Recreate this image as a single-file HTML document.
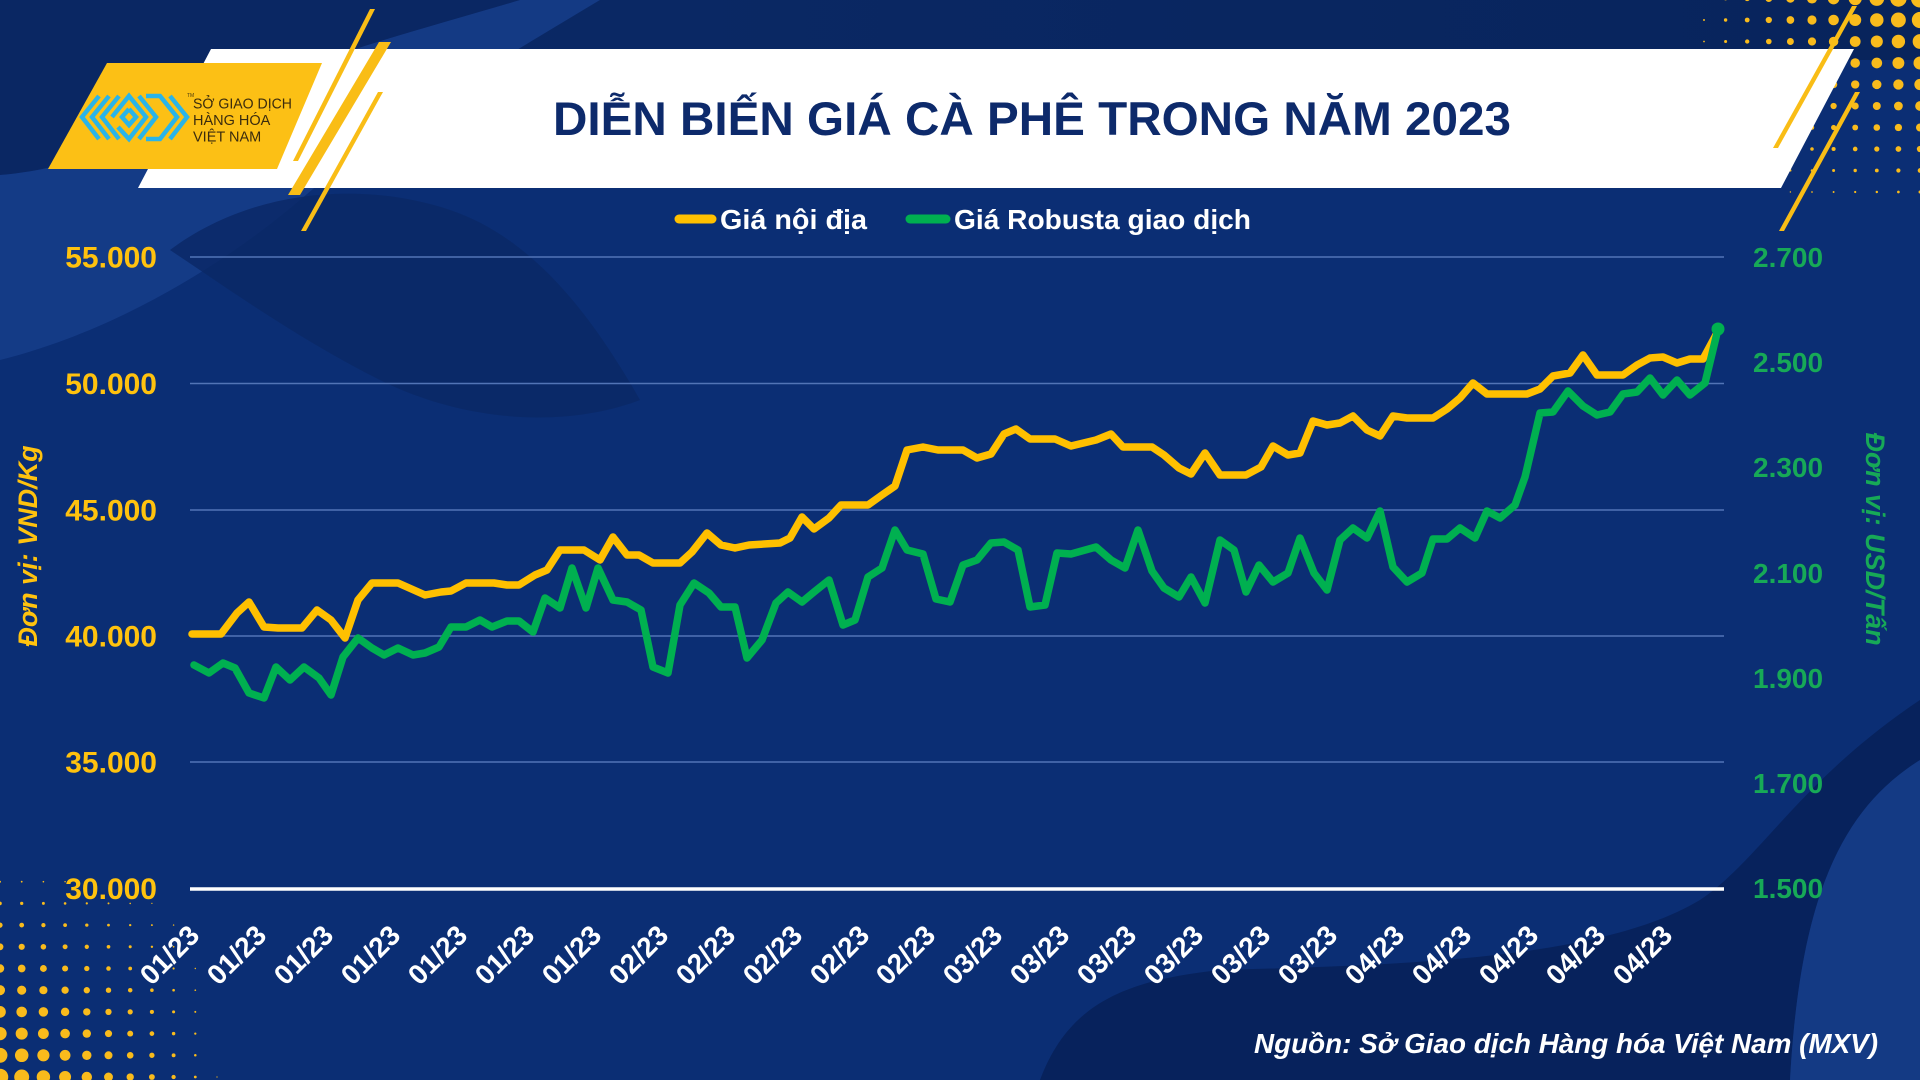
<!DOCTYPE html>
<html><head><meta charset="utf-8"><style>
html,body{margin:0;padding:0;background:#0b2e74;}
svg{display:block;}
text{font-family:"Liberation Sans",Arial,sans-serif;}
</style></head><body>
<svg width="1920" height="1080" viewBox="0 0 1920 1080" xmlns="http://www.w3.org/2000/svg">
<defs>
<linearGradient id="topg" x1="0" y1="0" x2="1" y2="0"><stop offset="0" stop-color="#0b2a68"/><stop offset="1" stop-color="#08245c"/></linearGradient>
</defs>
<!-- background -->
<rect width="1920" height="1080" fill="#0b2e74"/>
<rect width="1920" height="60" fill="url(#topg)"/>
<path d="M0,0 H520 C420,30 300,60 200,110 C120,150 60,170 0,175 Z" fill="#0a2763"/>
<path d="M0,175 C60,170 120,150 200,110 C300,60 420,30 520,0 H600 C500,60 380,130 300,200 C230,260 120,330 0,360 Z" fill="#163d8a" opacity="0.85"/>
<path d="M170,250 C250,190 360,180 450,210 C540,240 600,330 640,400 C560,430 460,420 380,380 C300,340 230,290 170,250 Z" fill="#0a2865" opacity="0.8"/>
<path d="M1040,1080 C1070,1000 1130,980 1220,970 C1400,965 1600,960 1700,900 C1760,860 1800,780 1920,700 L1920,760 C1840,810 1800,900 1790,1080 Z" fill="#07225c"/>
<path d="M1790,1080 C1800,900 1840,810 1920,760 L1920,1080 Z" fill="#143a84"/>

<!-- top-right dots -->
<g fill="#f9bb1c">
<circle cx="1704" cy="-1.5" r="1.07"/><circle cx="1725.6" cy="-1.5" r="1.86"/><circle cx="1747.2" cy="-1.5" r="2.66"/><circle cx="1768.8" cy="-1.5" r="3.45"/><circle cx="1790.4" cy="-1.5" r="4.24"/><circle cx="1812" cy="-1.5" r="5.04"/><circle cx="1833.6" cy="-1.5" r="5.83"/><circle cx="1855.2" cy="-1.5" r="6.63"/><circle cx="1876.8" cy="-1.5" r="7.42"/><circle cx="1898.4" cy="-1.5" r="8.22"/><circle cx="1920" cy="-1.5" r="9.01"/>
<circle cx="1704" cy="20" r="0.97"/><circle cx="1725.6" cy="20" r="1.69"/><circle cx="1747.2" cy="20" r="2.41"/><circle cx="1768.8" cy="20" r="3.13"/><circle cx="1790.4" cy="20" r="3.85"/><circle cx="1812" cy="20" r="4.57"/><circle cx="1833.6" cy="20" r="5.29"/><circle cx="1855.2" cy="20" r="6.01"/><circle cx="1876.8" cy="20" r="6.73"/><circle cx="1898.4" cy="20" r="7.45"/><circle cx="1920" cy="20" r="8.17"/>
<circle cx="1704" cy="41.5" r="0.87"/><circle cx="1725.6" cy="41.5" r="1.52"/><circle cx="1747.2" cy="41.5" r="2.16"/><circle cx="1768.8" cy="41.5" r="2.81"/><circle cx="1790.4" cy="41.5" r="3.46"/><circle cx="1812" cy="41.5" r="4.10"/><circle cx="1833.6" cy="41.5" r="4.75"/><circle cx="1855.2" cy="41.5" r="5.40"/><circle cx="1876.8" cy="41.5" r="6.04"/><circle cx="1898.4" cy="41.5" r="6.69"/><circle cx="1920" cy="41.5" r="7.34"/>
<circle cx="1704" cy="63" r="0.77"/><circle cx="1725.6" cy="63" r="1.34"/><circle cx="1747.2" cy="63" r="1.92"/><circle cx="1768.8" cy="63" r="2.49"/><circle cx="1790.4" cy="63" r="3.06"/><circle cx="1812" cy="63" r="3.63"/><circle cx="1833.6" cy="63" r="4.21"/><circle cx="1855.2" cy="63" r="4.78"/><circle cx="1876.8" cy="63" r="5.35"/><circle cx="1898.4" cy="63" r="5.93"/><circle cx="1920" cy="63" r="6.50"/>
<circle cx="1704" cy="84.5" r="0.67"/><circle cx="1725.6" cy="84.5" r="1.17"/><circle cx="1747.2" cy="84.5" r="1.67"/><circle cx="1768.8" cy="84.5" r="2.17"/><circle cx="1790.4" cy="84.5" r="2.67"/><circle cx="1812" cy="84.5" r="3.17"/><circle cx="1833.6" cy="84.5" r="3.67"/><circle cx="1855.2" cy="84.5" r="4.17"/><circle cx="1876.8" cy="84.5" r="4.66"/><circle cx="1898.4" cy="84.5" r="5.16"/><circle cx="1920" cy="84.5" r="5.66"/>
<circle cx="1725.6" cy="106" r="1.0"/><circle cx="1747.2" cy="106" r="1.42"/><circle cx="1768.8" cy="106" r="1.85"/><circle cx="1790.4" cy="106" r="2.27"/><circle cx="1812" cy="106" r="2.70"/><circle cx="1833.6" cy="106" r="3.12"/><circle cx="1855.2" cy="106" r="3.55"/><circle cx="1876.8" cy="106" r="3.98"/><circle cx="1898.4" cy="106" r="4.40"/><circle cx="1920" cy="106" r="4.83"/>
<circle cx="1725.6" cy="127.5" r="0.82"/><circle cx="1747.2" cy="127.5" r="1.18"/><circle cx="1768.8" cy="127.5" r="1.53"/><circle cx="1790.4" cy="127.5" r="1.88"/><circle cx="1812" cy="127.5" r="2.23"/><circle cx="1833.6" cy="127.5" r="2.58"/><circle cx="1855.2" cy="127.5" r="2.93"/><circle cx="1876.8" cy="127.5" r="3.29"/><circle cx="1898.4" cy="127.5" r="3.64"/><circle cx="1920" cy="127.5" r="3.99"/>
<circle cx="1725.6" cy="149" r="0.65"/><circle cx="1747.2" cy="149" r="0.93"/><circle cx="1768.8" cy="149" r="1.21"/><circle cx="1790.4" cy="149" r="1.48"/><circle cx="1812" cy="149" r="1.76"/><circle cx="1833.6" cy="149" r="2.04"/><circle cx="1855.2" cy="149" r="2.32"/><circle cx="1876.8" cy="149" r="2.60"/><circle cx="1898.4" cy="149" r="2.87"/><circle cx="1920" cy="149" r="3.15"/>
<circle cx="1747.2" cy="170.5" r="0.68"/><circle cx="1768.8" cy="170.5" r="0.89"/><circle cx="1790.4" cy="170.5" r="1.09"/><circle cx="1812" cy="170.5" r="1.30"/><circle cx="1833.6" cy="170.5" r="1.50"/><circle cx="1855.2" cy="170.5" r="1.70"/><circle cx="1876.8" cy="170.5" r="1.91"/><circle cx="1898.4" cy="170.5" r="2.11"/><circle cx="1920" cy="170.5" r="2.32"/>
<circle cx="1790.4" cy="192" r="0.70"/><circle cx="1812" cy="192" r="0.83"/><circle cx="1833.6" cy="192" r="0.96"/><circle cx="1855.2" cy="192" r="1.09"/><circle cx="1876.8" cy="192" r="1.22"/><circle cx="1898.4" cy="192" r="1.35"/><circle cx="1920" cy="192" r="1.48"/>
</g>

<!-- bottom-left dots -->
<g fill="#f9bb1c">
<circle cx="0" cy="1077" r="8.26"/><circle cx="21.7" cy="1077" r="7.50"/><circle cx="43.4" cy="1077" r="6.73"/><circle cx="65.1" cy="1077" r="5.97"/><circle cx="86.8" cy="1077" r="5.21"/><circle cx="108.5" cy="1077" r="4.45"/><circle cx="130.2" cy="1077" r="3.68"/><circle cx="151.9" cy="1077" r="2.92"/><circle cx="173.6" cy="1077" r="2.16"/><circle cx="195.3" cy="1077" r="1.40"/><circle cx="217" cy="1077" r="0.63"/>
<circle cx="0" cy="1055.3" r="7.45"/><circle cx="21.7" cy="1055.3" r="6.76"/><circle cx="43.4" cy="1055.3" r="6.08"/><circle cx="65.1" cy="1055.3" r="5.39"/><circle cx="86.8" cy="1055.3" r="4.70"/><circle cx="108.5" cy="1055.3" r="4.01"/><circle cx="130.2" cy="1055.3" r="3.32"/><circle cx="151.9" cy="1055.3" r="2.64"/><circle cx="173.6" cy="1055.3" r="1.95"/><circle cx="195.3" cy="1055.3" r="1.26"/>
<circle cx="0" cy="1033.6" r="6.65"/><circle cx="21.7" cy="1033.6" r="6.03"/><circle cx="43.4" cy="1033.6" r="5.42"/><circle cx="65.1" cy="1033.6" r="4.80"/><circle cx="86.8" cy="1033.6" r="4.19"/><circle cx="108.5" cy="1033.6" r="3.58"/><circle cx="130.2" cy="1033.6" r="2.96"/><circle cx="151.9" cy="1033.6" r="2.35"/><circle cx="173.6" cy="1033.6" r="1.74"/><circle cx="195.3" cy="1033.6" r="1.12"/>
<circle cx="0" cy="1011.9" r="5.84"/><circle cx="21.7" cy="1011.9" r="5.30"/><circle cx="43.4" cy="1011.9" r="4.76"/><circle cx="65.1" cy="1011.9" r="4.22"/><circle cx="86.8" cy="1011.9" r="3.68"/><circle cx="108.5" cy="1011.9" r="3.14"/><circle cx="130.2" cy="1011.9" r="2.60"/><circle cx="151.9" cy="1011.9" r="2.06"/><circle cx="173.6" cy="1011.9" r="1.53"/><circle cx="195.3" cy="1011.9" r="0.99"/>
<circle cx="0" cy="990.2" r="5.03"/><circle cx="21.7" cy="990.2" r="4.57"/><circle cx="43.4" cy="990.2" r="4.10"/><circle cx="65.1" cy="990.2" r="3.64"/><circle cx="86.8" cy="990.2" r="3.17"/><circle cx="108.5" cy="990.2" r="2.71"/><circle cx="130.2" cy="990.2" r="2.24"/><circle cx="151.9" cy="990.2" r="1.78"/><circle cx="173.6" cy="990.2" r="1.31"/><circle cx="195.3" cy="990.2" r="0.85"/>
<circle cx="0" cy="968.5" r="4.22"/><circle cx="21.7" cy="968.5" r="3.83"/><circle cx="43.4" cy="968.5" r="3.44"/><circle cx="65.1" cy="968.5" r="3.05"/><circle cx="86.8" cy="968.5" r="2.66"/><circle cx="108.5" cy="968.5" r="2.27"/><circle cx="130.2" cy="968.5" r="1.88"/><circle cx="151.9" cy="968.5" r="1.49"/><circle cx="173.6" cy="968.5" r="1.10"/><circle cx="195.3" cy="968.5" r="0.71"/>
<circle cx="0" cy="946.8" r="3.42"/><circle cx="21.7" cy="946.8" r="3.10"/><circle cx="43.4" cy="946.8" r="2.79"/><circle cx="65.1" cy="946.8" r="2.47"/><circle cx="86.8" cy="946.8" r="2.15"/><circle cx="108.5" cy="946.8" r="1.84"/><circle cx="130.2" cy="946.8" r="1.52"/><circle cx="151.9" cy="946.8" r="1.21"/><circle cx="173.6" cy="946.8" r="0.89"/>
<circle cx="0" cy="925.1" r="2.61"/><circle cx="21.7" cy="925.1" r="2.37"/><circle cx="43.4" cy="925.1" r="2.13"/><circle cx="65.1" cy="925.1" r="1.89"/><circle cx="86.8" cy="925.1" r="1.65"/><circle cx="108.5" cy="925.1" r="1.40"/><circle cx="130.2" cy="925.1" r="1.16"/><circle cx="151.9" cy="925.1" r="0.92"/><circle cx="173.6" cy="925.1" r="0.68"/>
<circle cx="0" cy="903.4" r="1.80"/><circle cx="21.7" cy="903.4" r="1.63"/><circle cx="43.4" cy="903.4" r="1.47"/><circle cx="65.1" cy="903.4" r="1.30"/><circle cx="86.8" cy="903.4" r="1.14"/><circle cx="108.5" cy="903.4" r="0.97"/><circle cx="130.2" cy="903.4" r="0.80"/><circle cx="151.9" cy="903.4" r="0.64"/>
<circle cx="0" cy="881.7" r="0.99"/><circle cx="21.7" cy="881.7" r="0.90"/><circle cx="43.4" cy="881.7" r="0.81"/><circle cx="65.1" cy="881.7" r="0.72"/><circle cx="86.8" cy="881.7" r="0.63"/>
</g>

<!-- white banner -->
<polygon points="211,49 1854,49 1781,188 138,188" fill="#ffffff"/>
<!-- yellow stripes -->
<g fill="#f9bd16">
<polygon points="370,9 375,9 298,161 293,161"/>
<polygon points="379,42 391,42 300,195 288,195"/>
<polygon points="378,92 383,92 306,231 301,231"/>
<polygon points="1852,6 1857,6 1778,148 1773,148"/>
<polygon points="1855,92 1860,92 1784,231 1779,231"/>
</g>
<!-- logo -->
<polygon points="107,63 322,63 277,169 48,169" fill="#fcc015"/>
<g fill="none" stroke="#2ab4e8" stroke-width="4.5" stroke-linejoin="miter">
<polyline points="99,96 82,117 99,139"/>
<polyline points="109,96 92,117 109,139"/>
<polyline points="119,96 102,117 119,139"/>
<polyline points="112,117 129,96 146,117 129,139 118,127"/>
<polyline points="139,96 156,117 139,139"/>
<polyline points="146,96 160,96 177,117 160,139 146,139"/>
<polyline points="170,96 187,117 170,139"/>
<polyline points="129,109 136,117 129,125 122,117 129,109"/>
</g>
<text x="187" y="97" font-size="5" fill="#4a3a10">TM</text>
<g font-family="Liberation Serif, serif" font-size="14.5" fill="#3b2c0e">
<text x="193" y="108.5" textLength="99" lengthAdjust="spacingAndGlyphs">SỞ GIAO DỊCH</text>
<text x="193" y="125">HÀNG HÓA</text>
<text x="193" y="141.5">VIỆT NAM</text>
</g>
<!-- title -->
<text x="553" y="135" font-size="47" font-weight="bold" fill="#0d2a6b" textLength="958" lengthAdjust="spacingAndGlyphs">DIỄN BIẾN GIÁ CÀ PHÊ TRONG NĂM 2023</text>

<!-- legend -->
<line x1="679" y1="219" x2="712" y2="219" stroke="#ffc000" stroke-width="9" stroke-linecap="round"/>
<text x="720" y="229" font-size="28" font-weight="bold" fill="#ffffff" textLength="147" lengthAdjust="spacingAndGlyphs">Giá nội địa</text>
<line x1="910" y1="219" x2="946" y2="219" stroke="#00b050" stroke-width="9" stroke-linecap="round"/>
<text x="954" y="229" font-size="28" font-weight="bold" fill="#ffffff" textLength="297" lengthAdjust="spacingAndGlyphs">Giá Robusta giao dịch</text>

<!-- gridlines -->
<g stroke="#5274b6" stroke-width="1.5">
<line x1="190" y1="257" x2="1724" y2="257"/>
<line x1="190" y1="383.5" x2="1724" y2="383.5"/>
<line x1="190" y1="510" x2="1724" y2="510"/>
<line x1="190" y1="636" x2="1724" y2="636"/>
<line x1="190" y1="762" x2="1724" y2="762"/>
</g>
<line x1="190" y1="889" x2="1724" y2="889" stroke="#ffffff" stroke-width="3.5"/>

<!-- left axis labels -->
<g font-size="30" font-weight="bold" fill="#ffc20e" text-anchor="end">
<text x="157" y="267.5">55.000</text>
<text x="157" y="394">50.000</text>
<text x="157" y="520.5">45.000</text>
<text x="157" y="646.5">40.000</text>
<text x="157" y="772.5">35.000</text>
<text x="157" y="899">30.000</text>
</g>
<!-- right axis labels -->
<g font-size="28" font-weight="bold" fill="#17a957">
<text x="1753" y="267">2.700</text>
<text x="1753" y="372">2.500</text>
<text x="1753" y="477">2.300</text>
<text x="1753" y="583">2.100</text>
<text x="1753" y="688">1.900</text>
<text x="1753" y="793">1.700</text>
<text x="1753" y="898">1.500</text>
</g>
<!-- axis titles -->
<text transform="translate(37,546) rotate(-90)" text-anchor="middle" font-size="27" font-weight="bold" font-style="italic" fill="#ffc20e">Đơn vị: VND/Kg</text>
<text transform="translate(1866,539) rotate(90)" text-anchor="middle" font-size="27" font-weight="bold" font-style="italic" fill="#17a957">Đơn vị: USD/Tấn</text>

<!-- series -->
<polyline fill="none" stroke="#ffc000" stroke-width="7.5" stroke-linejoin="round" stroke-linecap="round" points="192,634 221,634 237,613 249,602 264,627 278,628 302,628 317,610 331,620 345,638 358,600 372,583 398,583 425,595 441,592 451,591 466,583 494,583 507,585 519,585 535,575 547,570 560,550 584,550 600,560 613,537 627,555 639,555 653,563 680,563 692,552 707,533 721,545 735,548 749,545 780,543 790,538 802,517 814,529 829,518 841,505 868,505 882,495 895,486 907,450 923,447 938,450 963,450 977,458 991,454 1004,434 1016,429 1030,439 1055,439 1071,446 1096,440 1111,434 1123,447 1152,447 1164,455 1179,468 1191,474 1205,453 1220,475 1246,475 1261,467 1273,446 1288,455 1300,453 1313,421 1327,425 1340,423 1353,416 1367,430 1380,436 1393,416 1407,418 1433,418 1447,409 1460,398 1473,383 1487,394 1527,394 1540,389 1553,376 1570,373 1583,355 1597,375 1623,375 1637,365 1650,358 1663,357 1677,363 1690,359 1703,359 1717,333"/>
<polyline fill="none" stroke="#00b050" stroke-width="7.5" stroke-linejoin="round" stroke-linecap="round" points="194,665 209,673 223,663 235,668 249,693 264,698 276,667 290,680 304,667 319,678 331,695 343,657 358,638 372,648 384,655 398,648 413,655 425,653 439,647 451,627 466,627 480,620 492,627 507,621 519,621 533,632 545,598 560,608 572,568 586,608 598,568 613,600 627,602 641,610 653,667 668,673 680,605 694,583 709,593 721,607 735,607 747,658 762,640 776,603 788,592 802,602 814,592 829,580 843,625 855,620 868,577 882,568 895,530 907,550 923,554 936,599 950,602 963,565 977,560 991,543 1004,542 1018,550 1030,607 1045,605 1057,553 1071,554 1096,547 1111,560 1125,568 1138,530 1152,571 1164,588 1179,597 1191,577 1205,603 1220,540 1234,550 1246,592 1259,565 1273,582 1288,573 1300,538 1314,573 1327,590 1340,540 1353,528 1367,538 1380,511 1393,567 1407,582 1422,573 1433,539 1447,539 1460,528 1475,538 1487,511 1500,518 1515,505 1525,477 1540,413 1553,412 1568,391 1583,406 1597,415 1610,412 1623,394 1637,392 1650,378 1663,395 1677,380 1690,395 1705,383 1718,329"/>
<circle cx="1718" cy="329" r="6.5" fill="#00b050"/>

<!-- x labels -->
<g font-size="28" font-weight="bold" fill="#ffffff" text-anchor="end">
<text transform="translate(201,937) rotate(-45)">01/23</text>
<text transform="translate(268,937) rotate(-45)">01/23</text>
<text transform="translate(335,937) rotate(-45)">01/23</text>
<text transform="translate(402,937) rotate(-45)">01/23</text>
<text transform="translate(469,937) rotate(-45)">01/23</text>
<text transform="translate(536,937) rotate(-45)">01/23</text>
<text transform="translate(603,937) rotate(-45)">01/23</text>
<text transform="translate(670,937) rotate(-45)">02/23</text>
<text transform="translate(737,937) rotate(-45)">02/23</text>
<text transform="translate(804,937) rotate(-45)">02/23</text>
<text transform="translate(871,937) rotate(-45)">02/23</text>
<text transform="translate(937,937) rotate(-45)">02/23</text>
<text transform="translate(1004,937) rotate(-45)">03/23</text>
<text transform="translate(1071,937) rotate(-45)">03/23</text>
<text transform="translate(1138,937) rotate(-45)">03/23</text>
<text transform="translate(1205,937) rotate(-45)">03/23</text>
<text transform="translate(1272,937) rotate(-45)">03/23</text>
<text transform="translate(1339,937) rotate(-45)">03/23</text>
<text transform="translate(1406,937) rotate(-45)">04/23</text>
<text transform="translate(1473,937) rotate(-45)">04/23</text>
<text transform="translate(1540,937) rotate(-45)">04/23</text>
<text transform="translate(1607,937) rotate(-45)">04/23</text>
<text transform="translate(1674,937) rotate(-45)">04/23</text>
</g>

<!-- source -->
<text x="1254" y="1053" font-size="28" font-weight="bold" font-style="italic" fill="#ffffff" textLength="624" lengthAdjust="spacingAndGlyphs">Nguồn: Sở Giao dịch Hàng hóa Việt Nam (MXV)</text>
</svg>
</body></html>
